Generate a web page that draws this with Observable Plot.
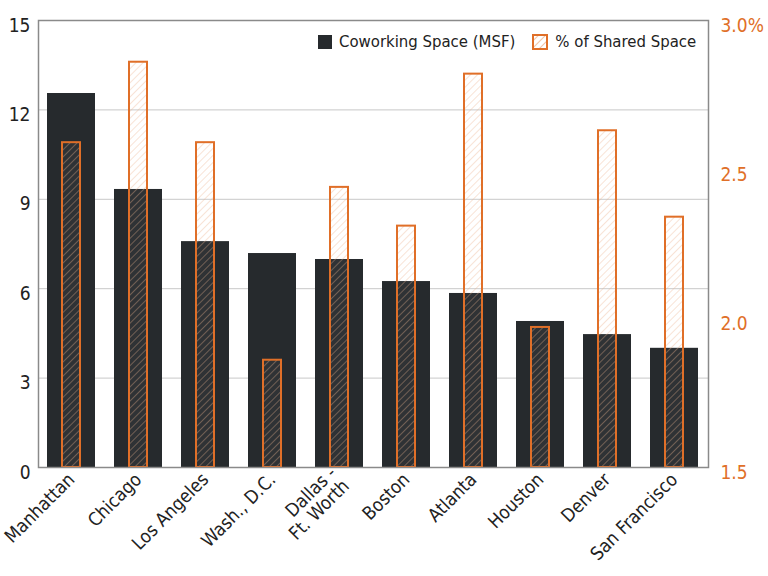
<!DOCTYPE html>
<html><head><meta charset="utf-8">
<script src="https://cdn.jsdelivr.net/npm/d3@7"></script>
<script src="https://cdn.jsdelivr.net/npm/@observablehq/plot@0.6"></script>
<style>
body{margin:0;background:#fff;}
#wrap{position:relative;width:768px;height:576px;font-family:"Liberation Sans Narrow","DejaVu Sans Condensed",sans-serif;}
#legend{position:absolute;top:32px;left:318px;display:flex;align-items:center;font-size:16.6px;color:#222;}
#legend .item{display:flex;align-items:center;margin-right:17px;}
#legend svg{margin-right:7px;}
</style></head><body>
<div id="wrap"><div id="legend"></div></div>
<script>
const cities = ["Manhattan","Chicago","Los Angeles","Wash., D.C.","Dallas -\nFt. Worth","Boston","Atlanta","Houston","Denver","San Francisco"];
const coworking = [12.55, 9.33, 7.58, 7.18, 6.98, 6.24, 5.84, 4.9, 4.46, 4.0];
const sharedPct = [2.59, 2.86, 2.59, 1.86, 2.44, 2.31, 2.82, 1.97, 2.63, 2.34];
const leftTicks = [0, 3, 6, 9, 12, 15];
const rightTicks = [1.5, 2.0, 2.5, 3.0];

const dark = "#262a2d";
const orange = "#e06f28";
// map right-axis (%) values onto left scale: 1.5 -> 0, 3.0 -> 15
const pctToLeft = p => (p - 1.5) * 10;

const data = cities.map((c, i) => ({city: c, cw: coworking[i], pct: sharedPct[i], pctY: pctToLeft(sharedPct[i])}));

const chart = Plot.plot({
  width: 768, height: 576,
  marginLeft: 38, marginRight: 60, marginTop: 20, marginBottom: 109,
  style: {fontFamily: '"Liberation Sans Narrow","DejaVu Sans Condensed",sans-serif', fontSize: "17px", color: "#222", background: "transparent"},
  x: {domain: cities, paddingInner: 0.28, paddingOuter: 0.14, label: null},
  y: {domain: [0, 15], label: null},
  marks: [
    Plot.gridY(leftTicks.slice(1, -1), {stroke: "#c8c8c8", strokeOpacity: 1}),
    Plot.barY(data, {x: "city", y: "cw", fill: dark}),
    Plot.barY(data, {x: "city", y: "pctY", fill: "url(#hatch)", stroke: orange, strokeWidth: 2, insetLeft: 15, insetRight: 15}),
    Plot.frame({stroke: "#8a8a8a", strokeWidth: 1.5}),
    Plot.axisY(leftTicks, {anchor: "left", tickSize: 0, tickPadding: 8, fontSize: 19, dy: 5, tickFormat: d => d}),
    Plot.axisY(rightTicks.map(pctToLeft), {anchor: "right", tickSize: 0, tickPadding: 12, fontSize: 19, dy: 5, fill: orange, textAnchor: "start",
      tickFormat: d => { const v = d / 10 + 1.5; return v === 3 ? "3.0%" : (v === 1.5 ? "1.5" : v.toFixed(1)); }}),
    Plot.axisX({tickSize: 0, tickRotate: -45, tickPadding: 9, fontSize: 18.5, textAnchor: "end"}),
    () => {
      const s = d3.create("svg:defs");
      const p = s.append("pattern").attr("id", "hatch").attr("patternUnits", "userSpaceOnUse").attr("width", 5).attr("height", 5).attr("patternTransform", "rotate(45)");
      p.append("rect").attr("width", 5).attr("height", 5).attr("fill", "#fff").attr("fill-opacity", 0.04);
      p.append("line").attr("x1", 0).attr("y1", 0).attr("x2", 0).attr("y2", 5).attr("stroke", "#eeb28f").attr("stroke-opacity", 0.45).attr("stroke-width", 1.6);
      return s.node();
    }
  ]
});
document.getElementById("wrap").prepend(chart);

const legend = document.getElementById("legend");
legend.innerHTML = `
<div class="item"><svg width="14" height="14"><rect width="14" height="14" fill="${dark}"/></svg>Coworking Space (MSF)</div>
<div class="item"><svg width="16" height="16"><defs><pattern id="hatchL" patternUnits="userSpaceOnUse" width="5" height="5" patternTransform="rotate(45)"><line x1="0" y1="0" x2="0" y2="5" stroke="#eeb28f" stroke-width="1.6"/></pattern></defs><rect x="1" y="1" width="14" height="14" fill="url(#hatchL)" stroke="${orange}" stroke-width="2"/></svg>% of Shared Space</div>`;
</script>
</body></html>
